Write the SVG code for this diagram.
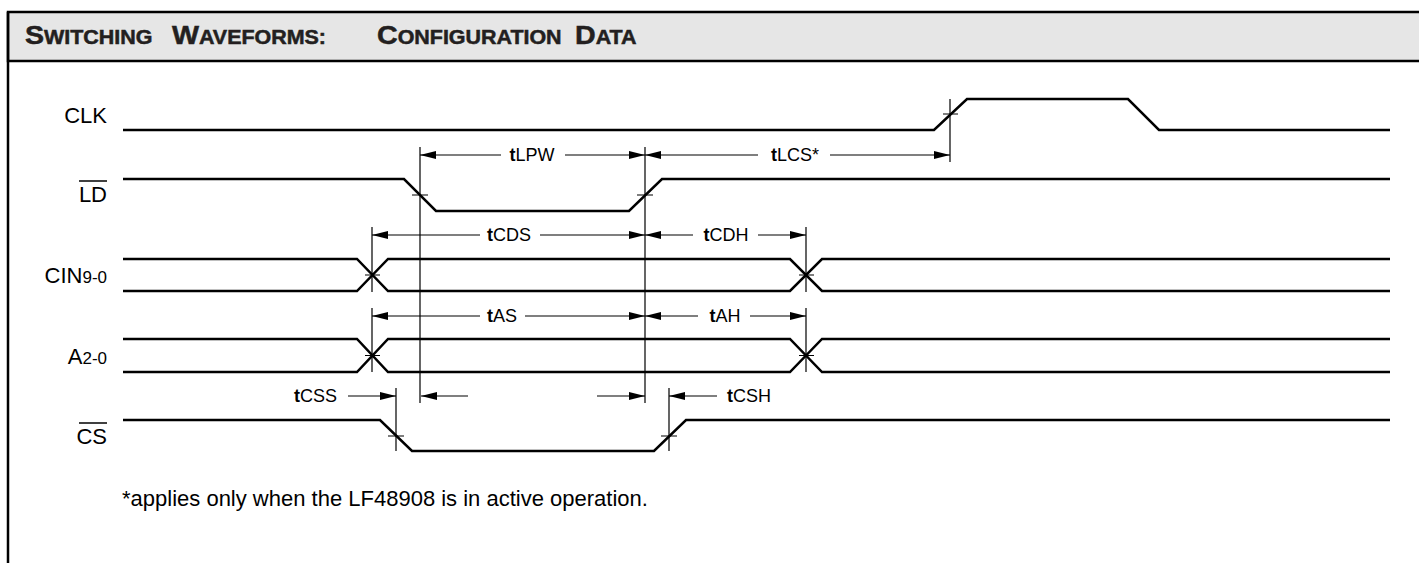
<svg xmlns="http://www.w3.org/2000/svg" width="1419" height="563" viewBox="0 0 1419 563">
<defs>
<style>
.frame{fill:none;stroke:#000;stroke-width:2.5}
.wave{fill:none;stroke:#000;stroke-width:2.5;stroke-linejoin:miter}
.thin{fill:none;stroke:#000;stroke-width:1.2}
.lbl{font-family:"Liberation Sans",Arial,sans-serif;font-size:22px;fill:#000}
.tl{font-family:"Liberation Sans",Arial,sans-serif;font-size:18px;fill:#000}
.fn{font-family:"Liberation Sans",Arial,sans-serif;font-size:22px;fill:#000}
.ttl{font-family:"Liberation Sans",Arial,sans-serif;font-weight:bold;font-size:19.5px;fill:#231f20;stroke:#231f20;stroke-width:0.5}
.cap{font-size:26px}
</style>
<marker id="ah" viewBox="0 0 16 8" refX="16" refY="4" markerWidth="16" markerHeight="8" markerUnits="userSpaceOnUse" orient="auto-start-reverse">
<path d="M0,0 L16,4 L0,8 Z" fill="#000"/>
</marker>
</defs>
<rect x="0" y="0" width="1419" height="563" fill="#fff"/>
<g id="frame">
<rect x="8" y="12" width="1420" height="49" fill="#e6e6e6" stroke="#000" stroke-width="2.5"/>
<line x1="8" y1="12" x2="8" y2="563" class="frame"/>
<g transform="translate(25,44) scale(1.1,1)">
<text class="ttl" x="0" y="0"><tspan class="cap">S</tspan>WITCHING</text>
<text class="ttl" x="133.6" y="0"><tspan class="cap">W</tspan>AVEFORMS:</text>
<text class="ttl" x="320" y="0"><tspan class="cap">C</tspan>ONFIGURATION</text>
<text class="ttl" x="500" y="0"><tspan class="cap">D</tspan>ATA</text>
</g>
</g>
<g id="labels">
<text class="lbl" x="107" y="123" text-anchor="end">CLK</text>
<text class="lbl" x="107" y="202" text-anchor="end">LD</text>
<line x1="79" y1="181" x2="107" y2="181" stroke="#000" stroke-width="1.5"/>
<text class="lbl" x="107" y="283" text-anchor="end">CIN<tspan font-size="17">9-0</tspan></text>
<text class="lbl" x="107" y="364" text-anchor="end">A<tspan font-size="17">2-0</tspan></text>
<text class="lbl" x="107" y="444" text-anchor="end">CS</text>
<line x1="79" y1="423" x2="107" y2="423" stroke="#000" stroke-width="1.5"/>
</g>
<g id="waveforms">
<path id="clk" class="wave" d="M123,130 H934 L967,99 H1128 L1159,130 H1390"/>
<path id="ld" class="wave" d="M123,179 H404 L436,211 H629 L662,179 H1390"/>
<path id="cin" class="wave" d="M123,259 H357 L388,291 H790 L822,259 H1390 M123,291 H357 L388,259 H790 L822,291 H1390"/>
<path id="a" class="wave" d="M123,339 H357 L388,372 H790 L822,339 H1390 M123,372 H357 L388,339 H790 L822,372 H1390"/>
<path id="cs" class="wave" d="M123,420 H380 L412,451 H654 L686,420 H1390"/>
</g>
<g id="connectors">
<path class="thin" d="M950,99 V162 M943,114 H958"/>
<path class="thin" d="M420,147 V403 M412,195 H428"/>
<path class="thin" d="M645,147 V403 M637,195 H653"/>
<path class="thin" d="M372,227 V292 M365,275 H380"/>
<path class="thin" d="M806,227 V292 M799,275 H814"/>
<path class="thin" d="M372,308 V372 M365,355.5 H380"/>
<path class="thin" d="M806,308 V372 M799,355.5 H814"/>
<path class="thin" d="M396,388 V451 M388,436 H404"/>
<path class="thin" d="M669,388 V451 M661,436 H677"/>
<line class="thin" x1="501" y1="155" x2="420" y2="155" marker-end="url(#ah)"/>
<line class="thin" x1="565" y1="155" x2="645" y2="155" marker-end="url(#ah)"/>
<line class="thin" x1="758" y1="155" x2="645" y2="155" marker-end="url(#ah)"/>
<line class="thin" x1="830" y1="155" x2="950" y2="155" marker-end="url(#ah)"/>
<line class="thin" x1="480" y1="235" x2="372" y2="235" marker-end="url(#ah)"/>
<line class="thin" x1="540" y1="235" x2="645" y2="235" marker-end="url(#ah)"/>
<line class="thin" x1="693" y1="235" x2="645" y2="235" marker-end="url(#ah)"/>
<line class="thin" x1="758" y1="235" x2="806" y2="235" marker-end="url(#ah)"/>
<line class="thin" x1="480" y1="316" x2="372" y2="316" marker-end="url(#ah)"/>
<line class="thin" x1="525" y1="316" x2="645" y2="316" marker-end="url(#ah)"/>
<line class="thin" x1="698" y1="316" x2="645" y2="316" marker-end="url(#ah)"/>
<line class="thin" x1="750" y1="316" x2="806" y2="316" marker-end="url(#ah)"/>
<line class="thin" x1="348" y1="396" x2="396" y2="396" marker-end="url(#ah)"/>
<line class="thin" x1="468" y1="396" x2="421" y2="396" marker-end="url(#ah)"/>
<line class="thin" x1="597" y1="396" x2="645" y2="396" marker-end="url(#ah)"/>
<line class="thin" x1="717" y1="396" x2="669" y2="396" marker-end="url(#ah)"/>
</g>
<g id="timing-labels">
<text class="tl" x="532" y="161" text-anchor="middle"><tspan font-weight="bold">t</tspan>LPW</text>
<text class="tl" x="795" y="161" text-anchor="middle"><tspan font-weight="bold">t</tspan>LCS*</text>
<text class="tl" x="509" y="241" text-anchor="middle"><tspan font-weight="bold">t</tspan>CDS</text>
<text class="tl" x="726" y="241" text-anchor="middle"><tspan font-weight="bold">t</tspan>CDH</text>
<text class="tl" x="502" y="322" text-anchor="middle"><tspan font-weight="bold">t</tspan>AS</text>
<text class="tl" x="725" y="322" text-anchor="middle"><tspan font-weight="bold">t</tspan>AH</text>
<text class="tl" x="337" y="402" text-anchor="end"><tspan font-weight="bold">t</tspan>CSS</text>
<text class="tl" x="727" y="402"><tspan font-weight="bold">t</tspan>CSH</text>
</g>
<text class="fn" x="122" y="506">*applies only when the LF48908 is in active operation.</text>
</svg>
